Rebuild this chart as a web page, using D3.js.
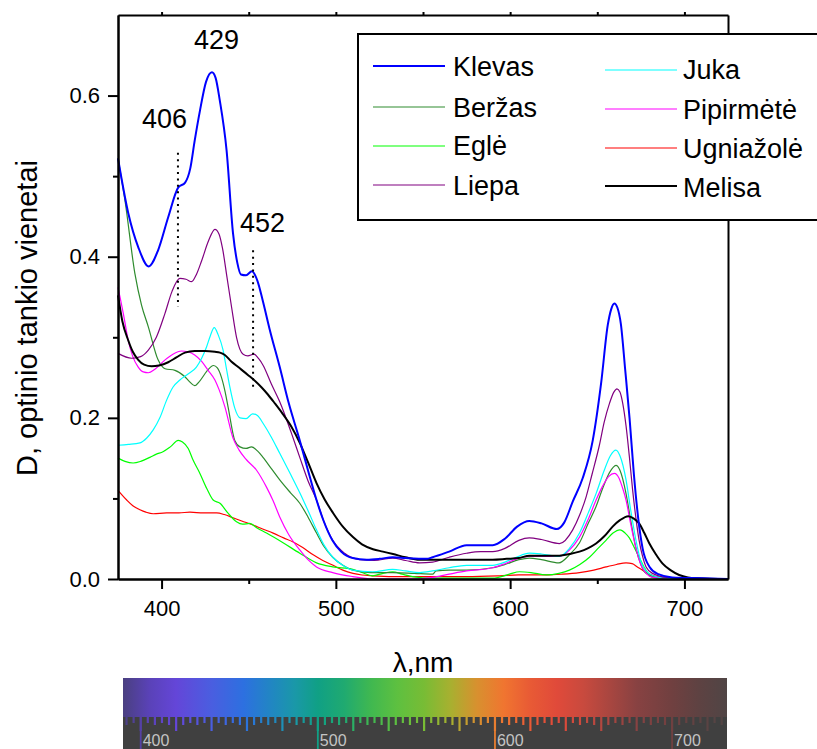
<!DOCTYPE html>
<html><head><meta charset="utf-8">
<script src="https://cdn.jsdelivr.net/npm/d3@7"></script>
<style>body{margin:0;background:#fff} text{font-family:"Liberation Sans",Arial,sans-serif}</style>
</head><body><svg id="c" width="817" height="749"></svg>
<script>
// ---------- DATA ----------
const seriesNames = ["Klevas","Beržas","Eglė","Liepa","Juka","Pipirmėtė","Ugniažolė","Melisa"];
const seriesColors = ["#0000ff","#2e8b2e","#00ff00","#800080","#00ffff","#ff00ff","#ff0000","#000000"];
const seriesWidths = [2,1.2,1.2,1.2,1.2,1.2,1.2,2];

const klevas = [[375,0.522],[380.9,0.454],[386.6,0.412],[392.6,0.388],[398,0.408],[403.8,0.449],[409.6,0.486],[413.5,0.492],[416.5,0.51],[419,0.544],[422,0.581],[425.5,0.617],[428.9,0.629],[431,0.622],[433.4,0.594],[437.3,0.532],[441,0.429],[443.5,0.392],[445.5,0.378],[448.5,0.377],[451.8,0.382],[455,0.37],[458,0.346],[462,0.31],[467.8,0.263],[473,0.218],[479.3,0.172],[484,0.135],[488.9,0.098],[493,0.072],[498,0.048],[503,0.034],[509.7,0.026],[517.7,0.024],[525,0.025],[532.6,0.027],[540,0.026],[552,0.025],[555.5,0.027],[565,0.034],[575,0.042],[582,0.042],[590,0.042],[597,0.05],[604,0.065],[611,0.072],[618,0.069],[626.8,0.062],[631,0.07],[635.9,0.096],[641.6,0.125],[647.4,0.172],[652.2,0.243],[656,0.315],[658,0.335],[659.8,0.342],[661.5,0.337],[663.5,0.317],[666,0.26],[668.5,0.2],[671,0.13],[673.5,0.075],[676,0.038],[680,0.015],[685,0.006],[693,0.002],[710,0.001],[725,0]];
const berzas = [[375,0.522],[379,0.47],[384.7,0.379],[388.5,0.34],[392.4,0.313],[398,0.272],[402,0.261],[407.7,0.259],[413.4,0.251],[416,0.245],[419,0.24],[422,0.246],[426,0.258],[429.8,0.265],[432,0.262],[434.4,0.25],[436.5,0.232],[438.2,0.213],[442,0.172],[445,0.164],[448.5,0.162],[451.6,0.164],[455,0.159],[458.2,0.151],[463,0.137],[467.8,0.123],[474,0.107],[479.3,0.094],[484,0.077],[488.9,0.057],[493,0.041],[498.2,0.027],[504,0.017],[509.7,0.011],[520,0.008],[532.6,0.008],[545,0.007],[555.5,0.006],[557.5,0.01],[565,0.011],[575,0.011],[590,0.014],[597,0.018],[605,0.024],[611,0.026],[618,0.024],[628,0.02],[634,0.03],[639.8,0.045],[645,0.07],[649.3,0.09],[653,0.112],[657,0.132],[660.7,0.141],[663,0.135],[666.5,0.106],[669,0.075],[672,0.04],[675,0.018],[678,0.007],[685,0.002],[700,0.001],[725,0]];
const egle = [[375,0.15],[379,0.146],[383.7,0.144],[388,0.146],[393.3,0.151],[397,0.155],[400.8,0.158],[405,0.164],[409.6,0.172],[412,0.17],[415.3,0.162],[418,0.148],[422,0.131],[426,0.112],[429.6,0.098],[433.5,0.094],[438,0.082],[443,0.071],[446.5,0.068],[450.6,0.069],[455,0.063],[460.2,0.057],[469.7,0.045],[479.3,0.032],[488.9,0.02],[498.2,0.015],[509.7,0.012],[515,0.008],[521,0.004],[527,0.007],[532.6,0.009],[538,0.006],[544,0.003],[555.5,0.001],[575,0.001],[590,0.001],[599.6,0.006],[605.4,0.009],[612,0.008],[620.7,0.005],[628,0.007],[634,0.011],[640,0.018],[645.5,0.027],[650,0.037],[655,0.048],[659,0.057],[663,0.061],[666,0.057],[668.4,0.051],[671,0.04],[674,0.027],[677,0.014],[681.6,0.002],[690,0],[725,0]];
const liepa = [[375,0.28],[382.8,0.274],[388,0.276],[392.4,0.284],[397,0.3],[402,0.33],[406,0.357],[410.5,0.373],[414,0.372],[417.2,0.369],[420,0.378],[423,0.395],[427,0.42],[430.6,0.434],[433,0.428],[435,0.41],[437.5,0.375],[440.2,0.337],[443,0.3],[446.8,0.279],[449.5,0.277],[453,0.279],[455.5,0.274],[458.3,0.265],[463,0.242],[467.8,0.22],[474.5,0.181],[479.3,0.151],[484,0.122],[488.9,0.098],[493,0.072],[498.2,0.048],[505,0.032],[513.7,0.024],[522,0.023],[532.6,0.026],[540,0.023],[548,0.02],[555.5,0.021],[565,0.027],[575,0.032],[583,0.034],[590,0.034],[597,0.038],[605,0.048],[611,0.051],[618,0.049],[628.3,0.044],[635.9,0.061],[640,0.08],[643.6,0.102],[647,0.13],[651.2,0.166],[654,0.195],[657,0.218],[659.5,0.232],[661.3,0.236],[663,0.232],[664.6,0.218],[666.5,0.19],[668.4,0.152],[670.3,0.11],[672.2,0.075],[674,0.048],[676,0.028],[678,0.015],[681.7,0.007],[690,0.002],[705,0.001],[725,0]];
const juka = [[375,0.166],[381,0.167],[387.6,0.169],[391.5,0.175],[395.2,0.185],[399,0.2],[402.9,0.222],[406.5,0.238],[410.5,0.247],[415,0.254],[420,0.263],[423,0.274],[425.8,0.288],[428,0.302],[430.2,0.312],[432.5,0.303],[435.3,0.284],[437.3,0.26],[439.2,0.238],[442,0.212],[445,0.2],[448.5,0.199],[452.2,0.205],[455,0.203],[458.3,0.193],[463,0.176],[467.8,0.156],[474,0.13],[479.3,0.107],[484,0.085],[488.9,0.061],[493,0.043],[498.2,0.027],[504,0.017],[509.7,0.011],[521,0.009],[532.6,0.012],[540,0.01],[548,0.008],[555.5,0.01],[565,0.014],[575,0.017],[590,0.017],[597,0.021],[603.5,0.027],[611,0.032],[618,0.031],[628,0.028],[634,0.038],[639.8,0.057],[645,0.083],[649.3,0.106],[654,0.135],[657.5,0.153],[660.7,0.16],[663,0.153],[666.5,0.123],[669,0.088],[672.2,0.048],[675,0.022],[678,0.01],[682,0.004],[690,0.001],[725,0]];
const pipirmete = [[375,0.362],[378,0.33],[380.9,0.296],[383.5,0.276],[386.6,0.263],[389.5,0.257],[392.4,0.256],[396,0.26],[402,0.272],[406.5,0.279],[411.5,0.283],[415,0.282],[419,0.278],[423,0.27],[426.7,0.259],[430.6,0.247],[433,0.235],[436.3,0.214],[441,0.175],[444.5,0.16],[448.7,0.148],[454.5,0.135],[460.2,0.114],[464,0.097],[467.8,0.077],[473,0.055],[479.3,0.036],[484,0.024],[488.9,0.015],[498.2,0.008],[509.7,0.003],[521,0],[544,0],[555.5,0.002],[565,0.006],[575,0.01],[590,0.014],[597,0.019],[605,0.026],[611,0.028],[620,0.028],[628,0.028],[634,0.036],[639.8,0.052],[645,0.075],[649.3,0.098],[653,0.115],[656.5,0.127],[659.8,0.131],[662.5,0.125],[664.5,0.113],[666.5,0.098],[669,0.07],[672,0.04],[675,0.018],[678,0.007],[682,0.002],[690,0.001],[725,0]];
const ugniazole = [[375,0.11],[380,0.098],[383.5,0.091],[387.6,0.086],[391,0.083],[395.2,0.081],[402.9,0.082],[410,0.082],[416.3,0.083],[424,0.082],[431.6,0.082],[436,0.08],[441,0.076],[446,0.072],[452.5,0.067],[458,0.062],[464,0.057],[470,0.051],[475.5,0.046],[481,0.039],[487,0.03],[492.5,0.023],[498.4,0.017],[504,0.011],[509.8,0.007],[515,0.005],[521,0.004],[532.8,0.003],[555.5,0.003],[575,0.003],[594,0.004],[605,0.005],[620.7,0.005],[630,0.006],[639.8,0.008],[648,0.011],[655,0.015],[661,0.018],[666.5,0.02],[670,0.019],[673,0.015],[676,0.011],[680,0.006],[685.6,0.002],[695,0],[725,0]];
const melisa = [[375,0.352],[377.5,0.32],[380.9,0.296],[383.5,0.282],[386.6,0.272],[390,0.266],[394.3,0.264],[398.5,0.265],[403.8,0.269],[408.5,0.275],[413.4,0.281],[419,0.283],[425,0.283],[430.6,0.282],[433.5,0.281],[436.3,0.278],[440,0.27],[444,0.263],[449.7,0.253],[453.5,0.246],[457.3,0.238],[461,0.229],[465,0.218],[469.5,0.205],[474.5,0.189],[479.3,0.169],[484,0.145],[488.9,0.119],[493.5,0.099],[498.4,0.082],[504,0.065],[509.8,0.052],[515,0.043],[521.3,0.037],[527,0.034],[532.8,0.031],[540,0.027],[548,0.024],[555.7,0.024],[565,0.024],[574.8,0.024],[582,0.024],[590,0.024],[598,0.025],[605,0.026],[611,0.029],[620,0.029],[628.3,0.029],[634,0.031],[639.8,0.034],[644.5,0.038],[649.3,0.044],[654,0.053],[658.8,0.065],[663,0.073],[667.8,0.078],[671,0.075],[674,0.069],[677,0.057],[679.9,0.044],[683.5,0.031],[687.5,0.019],[692,0.011],[697,0.005],[702,0.002],[706.6,0.001],[725,0]];
const seriesData = [klevas, berzas, egle, liepa, juka, pipirmete, ugniazole, melisa];

const xTicks = [400,500,600,700];
const xMinorTicks = [450,550,650];
const yTicks = [0,0.2,0.4,0.6];
const yMinorTicks = [0.1,0.3,0.5];
const xLabel = "λ,nm";
const yLabel = "D, optinio tankio vienetai";
// peak annotations: label, label position [nm, D], dotted line [nm, D from, D to]
const peakLabels = ["406","429","452"];
const peakLabelPos = [[401.7,0.56],[431.5,0.658],[457.9,0.431]];
const peakLines = [[409.4,0.529,0.338],null,[452.5,0.408,0.237]];
// spectrum strip colours by wavelength
const specNm =    [390,405,420,440,458,475,487,500,515,530,545,560,575,590,605,620,635,650,665,680,700,715,731];
const specColor = ["#4a4080","#5a42b8","#6446d8","#4a5ee0","#2d70e0","#2088c0","#1a98a8","#10a085","#20aa70","#40b850","#5ec040","#78bc35","#a8b030","#d8902f","#f07530","#e85a35","#e04a3a","#c84a3e","#a84640","#884242","#704040","#5e4242","#504545"];
const specLabels = [400,500,600,700];

// ---------- CHART ----------
const svg = d3.select("#c");
const x = d3.scaleLinear().domain([375,725]).range([118,728]);
const y = d3.scaleLinear().domain([0,0.7]).range([579,15]);

// curves
const line = d3.line().x(d=>x(d[0])).y(d=>y(d[1])).curve(d3.curveMonotoneX);
const drawOrder = [6,2,1,5,4,3,7,0];
drawOrder.forEach(i=>{
  svg.append("path").attr("d", line(seriesData[i])).attr("fill","none")
    .attr("stroke", seriesColors[i]).attr("stroke-width", seriesWidths[i]).attr("stroke-linejoin","round");
});

// axes
const fontAxis = "22px";
const gx = svg.append("g").attr("transform","translate(0,579)")
  .call(d3.axisBottom(x).tickValues(xTicks).tickSize(10).tickSizeOuter(0).tickPadding(11).tickFormat(d3.format("d")));
const gxm = svg.append("g").attr("transform","translate(0,579)")
  .call(d3.axisBottom(x).tickValues(xMinorTicks).tickSize(5).tickSizeOuter(0).tickFormat(""));
const gy = svg.append("g").attr("transform","translate(118,0)")
  .call(d3.axisLeft(y).tickValues(yTicks).tickSize(10).tickSizeOuter(0).tickPadding(8).tickFormat(d3.format(".1f")));
const gym = svg.append("g").attr("transform","translate(118,0)")
  .call(d3.axisLeft(y).tickValues(yMinorTicks).tickSize(5).tickSizeOuter(0).tickFormat(""));
const gt = svg.append("g").attr("transform","translate(0,15)")
  .call(d3.axisTop(x).tickValues(xTicks.concat(xMinorTicks)).tickSize(3).tickSizeOuter(0).tickFormat(""));
const gr = svg.append("g").attr("transform","translate(728,0)")
  .call(d3.axisRight(y).tickValues([]).tickSizeOuter(0));
[gx,gxm,gy,gym,gt,gr].forEach(g=>{
  g.selectAll("path.domain").attr("stroke","#000").attr("stroke-width",2);
  g.selectAll(".tick line").attr("stroke","#000").attr("stroke-width",2);
  g.selectAll(".tick text").attr("fill","#000").style("font-size",fontAxis).style("font-family",'"Liberation Sans",Arial,sans-serif');
});

// y label
svg.append("text").attr("transform","translate(37,318) rotate(-90)").attr("text-anchor","middle")
  .style("font-size","29px").text(yLabel);
// x label
svg.append("text").attr("x",423).attr("y",672).attr("text-anchor","middle")
  .style("font-size","28px").text(xLabel);

// peak annotations
peakLabels.forEach((t,i)=>{
  svg.append("text").attr("x",x(peakLabelPos[i][0])).attr("y",y(peakLabelPos[i][1]))
    .attr("text-anchor","middle").style("font-size","27px").text(t);
  const l = peakLines[i];
  if(l){
    svg.append("line").attr("x1",x(l[0])).attr("x2",x(l[0])).attr("y1",y(l[1])).attr("y2",y(l[2]))
      .attr("stroke","#000").attr("stroke-width",2).attr("stroke-dasharray","2,4.4");
  }
});

// legend
const lg = svg.append("g");
lg.append("rect").attr("x",358).attr("y",34).attr("width",480).attr("height",186)
  .attr("fill","#fff").attr("stroke","#000").attr("stroke-width",2);
const legCols = [{lx:373, tx:453, rows:[66,107,146,185], tb:[76,117,155,195]},
                 {lx:605, tx:683, rows:[70,109,148,186], tb:[79,119,158,197]}];
seriesNames.forEach((n,i)=>{
  const c = legCols[Math.floor(i/4)], r = i%4;
  lg.append("line").attr("x1",c.lx).attr("x2",c.lx+72).attr("y1",c.rows[r]).attr("y2",c.rows[r])
    .attr("stroke",seriesColors[i]).attr("stroke-width",seriesWidths[i]);
  lg.append("text").attr("x",c.tx).attr("y",c.tb[r]).style("font-size","27px").text(n);
});

// spectrum strip
const bx = d3.scaleLinear().domain([390,731]).range([123,727]);
const specScale = d3.scaleLinear().domain(specNm).range(specColor).interpolate(d3.interpolateRgb);
const defs = svg.append("defs");
const grad = defs.append("linearGradient").attr("id","spec").attr("x1","0%").attr("x2","100%");
specNm.forEach((v,i)=>grad.append("stop").attr("offset",((v-390)/(731-390)*100)+"%").attr("stop-color",specColor[i]));
svg.append("rect").attr("x",bx(390)).attr("y",678).attr("width",bx(731)-bx(390)).attr("height",39).attr("fill","url(#spec)");
svg.append("rect").attr("x",bx(390)).attr("y",717).attr("width",bx(731)-bx(390)).attr("height",32).attr("fill","#404040");
for(let v=392; v<=728; v+=4){
  const len = (v%20===0)?14:(v%8===0?8:6);
  svg.append("line").attr("x1",bx(v)).attr("x2",bx(v)).attr("y1",715).attr("y2",717+len)
    .attr("stroke",specScale(v)).attr("stroke-width",2.2);
}
specLabels.forEach(v=>{
  svg.append("line").attr("x1",bx(v)).attr("x2",bx(v)).attr("y1",715).attr("y2",749)
    .attr("stroke",specScale(v)).attr("stroke-width",1.8);
  svg.append("text").attr("x",bx(v)+2).attr("y",746).attr("fill","#c4c4c4").style("font-size","16px").text(v);
});
</script></body></html>
